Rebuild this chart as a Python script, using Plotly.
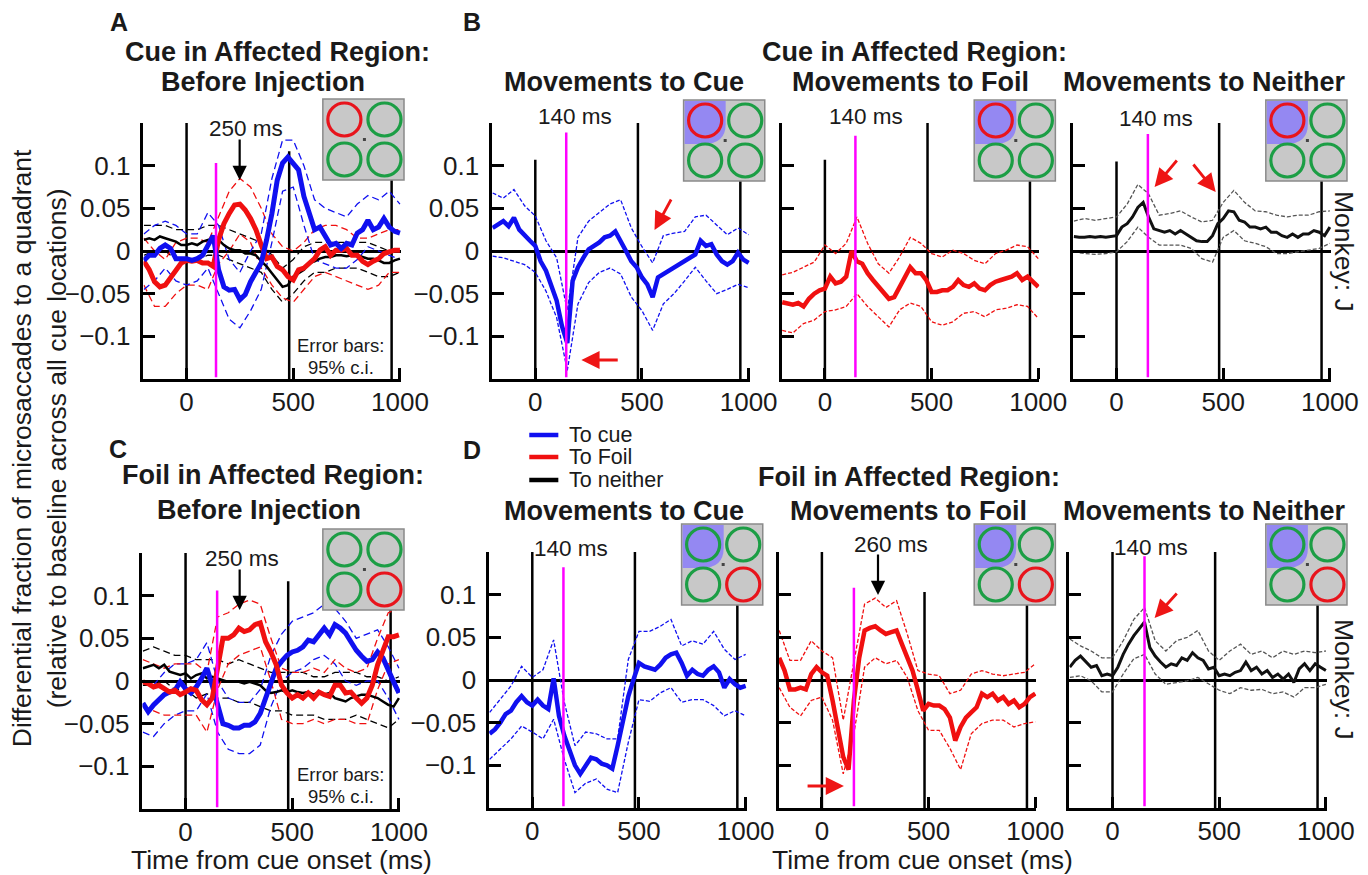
import plotly.graph_objects as go

# Page geometry: the body adds an 8 px margin and the photographed page is squeezed
# horizontally by KX, so target-pixel positions are converted to page pixels below.
OFF = 8
KX = 0.9776
W, H = 1376, 867
FONT = "Liberation Sans, Arial, Helvetica, sans-serif"

# ---------------- data ----------------
T25 = list(range(-200, 1001, 25))   # time grid of the mean traces (ms)
T50 = list(range(-200, 1001, 50))   # time grid of the 95% c.i. traces (ms)

XTICKS = [0, 500, 1000]
XTICKTEXT = ["0", "500", "1000"]
YTICKS = [-0.1, -0.05, 0, 0.05, 0.1]
YTICKTEXT = ["\u22120.1", "\u22120.05", "0", "0.05", "0.1"]

# Panel A (cue in affected region, before injection)
A_blue = [-0.011, -0.005, -0.005, 0.003, 0.007, 0.003, -0.009, -0.009, -0.009, -0.011,
          -0.009, -0.005, 0.007, 0.018, -0.022, -0.042, -0.046, -0.045, -0.057, -0.051,
          -0.036, -0.026, -0.014, 0.013, 0.044, 0.083, 0.103, 0.110, 0.103, 0.095,
          0.064, 0.042, 0.025, 0.028, 0.017, 0.007, 0.009, 0.003, 0.009, 0.007,
          0.021, 0.025, 0.036, 0.025, 0.028, 0.038, 0.028, 0.023, 0.021]
A_red = [-0.012, -0.022, -0.036, -0.042, -0.040, -0.032, -0.024, -0.014, -0.011, -0.012,
         -0.011, -0.014, -0.014, -0.018, 0.013, 0.032, 0.044, 0.054, 0.055, 0.048,
         0.038, 0.025, 0.007, -0.009, -0.007, -0.018, -0.022, -0.030, -0.034, -0.022,
         -0.020, -0.014, -0.009, 0.001, 0.005, -0.005, 0.001, 0.001, 0.003, -0.005,
         -0.005, -0.012, -0.016, -0.012, -0.009, -0.003, -0.001, 0.001, 0.001]
A_black = [0.013, 0.015, 0.013, 0.017, 0.015, 0.013, 0.011, 0.007, 0.007, 0.009,
           0.007, 0.011, 0.013, 0.015, 0.013, 0.007, 0.003, 0.001, 0.001, -0.003,
           -0.003, -0.005, -0.012, -0.018, -0.026, -0.034, -0.042, -0.040, -0.030, -0.026,
           -0.022, -0.014, -0.012, -0.009, -0.007, -0.007, -0.005, -0.005, -0.006, -0.005,
           -0.005, -0.007, -0.009, -0.009, -0.011, -0.014, -0.014, -0.011, -0.009]
A_blue_hi = [0.02, 0.03, 0.035, 0.03, 0.02, 0.02, 0.045, 0.03, -0.01, -0.025, 0.0, 0.02, 0.085,
             0.13, 0.13, 0.10, 0.06, 0.05, 0.045, 0.04, 0.055, 0.065, 0.06, 0.07, 0.055]
A_blue_lo = [-0.045, -0.035, -0.02, -0.035, -0.04, -0.035, -0.02, -0.05, -0.08, -0.09, -0.07, -0.045, 0.01,
             0.07, 0.075, 0.03, -0.01, -0.015, -0.02, -0.02, -0.01, 0.005, 0.0, -0.005, -0.01]
A_red_hi = [0.015, 0.0, -0.01, 0.01, 0.015, 0.015, 0.01, 0.04, 0.07, 0.085, 0.075, 0.05, 0.02,
            0.005, 0.0, 0.01, 0.025, 0.03, 0.03, 0.025, 0.015, 0.015, 0.02, 0.025, 0.025]
A_red_lo = [-0.04, -0.065, -0.065, -0.05, -0.04, -0.04, -0.045, -0.015, 0.0, 0.02, 0.01, -0.02, -0.04,
            -0.055, -0.06, -0.045, -0.03, -0.025, -0.03, -0.035, -0.04, -0.045, -0.04, -0.025, -0.025]
A_black_hi = [0.03, 0.03, 0.03, 0.025, 0.025, 0.025, 0.03, 0.03, 0.025, 0.02, 0.015, 0.01, -0.005,
              -0.02, -0.01, 0.005, 0.01, 0.01, 0.01, 0.01, 0.01, 0.01, 0.005, 0.0, 0.0]
A_black_lo = [-0.005, 0.0, 0.0, -0.01, -0.01, -0.01, -0.005, -0.005, -0.01, -0.015, -0.02, -0.025, -0.045,
              -0.06, -0.05, -0.035, -0.025, -0.025, -0.02, -0.02, -0.02, -0.025, -0.03, -0.03, -0.025]

# Panel C (foil in affected region, before injection)
C_red = [-0.001, -0.003, -0.007, -0.005, -0.009, -0.013, -0.011, -0.016, -0.013, -0.009,
         -0.011, -0.022, -0.028, -0.020, 0.015, 0.050, 0.050, 0.054, 0.062, 0.058,
         0.060, 0.066, 0.068, 0.046, 0.034, 0.019, -0.005, -0.014, -0.020, -0.016,
         -0.020, -0.014, -0.020, -0.013, -0.016, -0.018, -0.005, -0.005, -0.014, -0.013,
         -0.020, -0.026, -0.020, -0.005, 0.019, 0.034, 0.052, 0.052, 0.054]
C_blue = [-0.026, -0.036, -0.028, -0.022, -0.016, -0.013, -0.011, -0.001, -0.009, -0.014,
          -0.007, 0.003, 0.015, -0.005, -0.028, -0.050, -0.052, -0.055, -0.055, -0.052,
          -0.052, -0.048, -0.038, -0.020, -0.001, 0.015, 0.023, 0.030, 0.034, 0.036,
          0.040, 0.048, 0.046, 0.054, 0.062, 0.054, 0.066, 0.062, 0.056, 0.046,
          0.036, 0.029, 0.023, 0.025, 0.034, 0.027, 0.011, -0.001, -0.014]
C_black = [0.015, 0.017, 0.019, 0.015, 0.019, 0.011, 0.009, 0.007, 0.009, 0.003,
           0.007, 0.009, 0.003, 0.005, 0.003, 0.001, -0.001, -0.001, -0.001, -0.003,
           -0.001, -0.003, -0.005, -0.011, -0.014, -0.013, -0.011, -0.013, -0.011, -0.013,
           -0.014, -0.013, -0.016, -0.013, -0.016, -0.014, -0.020, -0.022, -0.024, -0.020,
           -0.018, -0.016, -0.016, -0.018, -0.020, -0.024, -0.028, -0.030, -0.020]
C_red_hi = [0.025, 0.02, 0.015, 0.02, 0.02, 0.02, 0.01, 0.075, 0.08, 0.09, 0.095, 0.09, 0.05,
            0.015, 0.01, 0.01, 0.015, 0.01, 0.025, 0.015, 0.01, 0.015, 0.05, 0.08, 0.085]
C_red_lo = [-0.03, -0.035, -0.04, -0.04, -0.04, -0.04, -0.06, -0.01, 0.02, 0.03, 0.035, 0.04, 0.0,
            -0.045, -0.05, -0.05, -0.045, -0.05, -0.045, -0.045, -0.05, -0.05, -0.01, 0.02, 0.025]
C_blue_hi = [0.0, -0.005, 0.01, 0.02, 0.02, 0.025, 0.045, 0.0, -0.02, -0.025, -0.025, -0.01, 0.03,
             0.055, 0.07, 0.075, 0.08, 0.09, 0.085, 0.07, 0.05, 0.055, 0.06, 0.04, 0.015]
C_blue_lo = [-0.06, -0.065, -0.05, -0.04, -0.035, -0.035, -0.015, -0.06, -0.08, -0.085, -0.085, -0.075, -0.03,
             0.0, 0.01, 0.015, 0.025, 0.03, 0.02, 0.0, -0.005, 0.0, 0.0, -0.02, -0.045]
C_black_hi = [0.035, 0.04, 0.035, 0.03, 0.03, 0.025, 0.025, 0.025, 0.02, 0.025, 0.02, 0.015, 0.01,
              0.01, 0.01, 0.01, 0.005, 0.005, 0.01, 0.01, 0.01, 0.005, 0.005, 0.0, 0.005]
C_black_lo = [-0.005, -0.005, 0.0, -0.01, -0.01, -0.02, -0.015, -0.02, -0.02, -0.025, -0.025, -0.03, -0.035,
              -0.035, -0.04, -0.04, -0.04, -0.045, -0.045, -0.045, -0.04, -0.045, -0.05, -0.055, -0.045]

# Panel B (cue in affected region, after injection)
B1_blue = [0.027, 0.031, 0.035, 0.029, 0.039, 0.025, 0.018, 0.012, 0.006, -0.012,
           -0.023, -0.039, -0.058, -0.088, -0.108, -0.035, -0.019, -0.008, 0.002, 0.006,
           0.010, 0.016, 0.018, 0.023, 0.010, 0.000, -0.012, -0.019, -0.031, -0.039,
           -0.054, -0.031, -0.027, -0.023, -0.019, -0.016, -0.012, -0.008, -0.004, 0.012,
           0.006, 0.008, -0.004, -0.012, -0.016, -0.012, -0.002, -0.010, -0.014]
B1_hi = [0.068, 0.062, 0.072, 0.053, 0.041, 0.012, -0.008, -0.07, 0.016, 0.035, 0.045, 0.055, 0.060,
         0.027, 0.005, -0.014, 0.018, 0.021, 0.023, 0.040, 0.042, 0.030, 0.019, 0.027, 0.019]
B1_lo = [-0.006, -0.008, -0.012, -0.016, -0.025, -0.047, -0.078, -0.140, -0.062, -0.037, -0.025, -0.020, -0.027,
         -0.054, -0.070, -0.093, -0.062, -0.050, -0.035, -0.019, -0.035, -0.050, -0.045, -0.039, -0.043]
B2_red = [-0.060, -0.061, -0.063, -0.061, -0.065, -0.056, -0.050, -0.046, -0.044, -0.030,
          -0.038, -0.036, -0.030, 0.000, -0.012, -0.015, -0.026, -0.034, -0.042, -0.050,
          -0.056, -0.054, -0.042, -0.030, -0.019, -0.026, -0.026, -0.034, -0.048, -0.048,
          -0.046, -0.046, -0.042, -0.034, -0.040, -0.042, -0.038, -0.044, -0.046, -0.040,
          -0.036, -0.034, -0.032, -0.030, -0.026, -0.034, -0.030, -0.036, -0.042]
B2_hi = [-0.028, -0.025, -0.019, -0.013, 0.007, -0.003, 0.009, 0.040, 0.009, -0.015, -0.026, -0.007, 0.016,
         0.009, -0.003, -0.007, 0.001, -0.003, -0.011, -0.015, -0.003, 0.001, 0.007, 0.005, -0.009]
B2_lo = [-0.093, -0.096, -0.085, -0.081, -0.071, -0.069, -0.065, -0.050, -0.065, -0.077, -0.089, -0.069, -0.061,
         -0.065, -0.083, -0.087, -0.083, -0.073, -0.071, -0.077, -0.069, -0.067, -0.063, -0.065, -0.079]
B3_black = [0.017, 0.016, 0.016, 0.017, 0.016, 0.017, 0.016, 0.017, 0.018, 0.028,
            0.032, 0.040, 0.051, 0.057, 0.040, 0.026, 0.024, 0.022, 0.024, 0.020,
            0.024, 0.020, 0.016, 0.012, 0.011, 0.011, 0.018, 0.032, 0.038, 0.047,
            0.046, 0.036, 0.034, 0.028, 0.028, 0.026, 0.028, 0.022, 0.022, 0.018,
            0.016, 0.020, 0.016, 0.020, 0.020, 0.024, 0.022, 0.018, 0.028]
B3_hi = [0.035, 0.038, 0.036, 0.038, 0.040, 0.055, 0.078, 0.067, 0.042, 0.044, 0.047, 0.040, 0.034,
         0.036, 0.057, 0.071, 0.057, 0.047, 0.046, 0.042, 0.040, 0.042, 0.042, 0.046, 0.047]
B3_lo = [-0.001, -0.003, -0.004, -0.003, -0.001, 0.011, 0.028, 0.016, 0.007, 0.007, 0.007, 0.003, -0.009,
         -0.013, 0.016, 0.024, 0.012, 0.009, 0.005, -0.003, -0.003, -0.001, 0.001, 0.003, 0.009]

# Panel D (foil in affected region, after injection)
D1_blue = [-0.063, -0.058, -0.050, -0.040, -0.036, -0.026, -0.019, -0.026, -0.030, -0.023,
           -0.030, -0.034, 0.002, -0.042, -0.065, -0.081, -0.100, -0.110, -0.100, -0.091,
           -0.093, -0.098, -0.100, -0.104, -0.077, -0.046, -0.019, 0.001, 0.020, 0.016,
           0.014, 0.012, 0.018, 0.026, 0.030, 0.032, 0.020, 0.005, 0.012, 0.007,
           0.005, 0.012, 0.016, 0.009, -0.009, 0.001, -0.005, -0.009, -0.007]
D1_hi = [-0.038, -0.023, -0.007, 0.016, 0.003, 0.012, 0.047, -0.026, -0.077, -0.061, -0.063, -0.069, -0.069,
         0.024, 0.057, 0.057, 0.063, 0.071, 0.040, 0.046, 0.042, 0.057, 0.036, 0.024, 0.030]
D1_lo = [-0.093, -0.081, -0.069, -0.054, -0.061, -0.069, -0.046, -0.093, -0.132, -0.121, -0.116, -0.128, -0.132,
         -0.073, -0.023, -0.025, -0.015, -0.009, -0.026, -0.023, -0.023, -0.030, -0.042, -0.036, -0.042]
D2_red = [0.026, 0.011, -0.011, -0.011, -0.009, -0.011, 0.007, 0.015, 0.009, 0.005,
          -0.024, -0.055, -0.090, -0.105, -0.024, 0.026, 0.058, 0.061, 0.063, 0.058,
          0.054, 0.056, 0.058, 0.042, 0.026, 0.011, -0.012, -0.036, -0.028, -0.030,
          -0.030, -0.034, -0.044, -0.071, -0.055, -0.044, -0.038, -0.032, -0.016, -0.020,
          -0.016, -0.024, -0.020, -0.028, -0.024, -0.032, -0.028, -0.020, -0.016]
D2_hi = [0.058, 0.023, 0.023, 0.046, 0.034, 0.026, -0.047, 0.023, 0.089, 0.096, 0.085, 0.093, 0.054,
         0.011, 0.007, 0.005, -0.016, -0.012, 0.007, 0.011, 0.007, 0.005, 0.007, 0.009, 0.019]
D2_lo = [-0.009, -0.032, -0.042, -0.024, -0.020, -0.047, -0.110, -0.063, 0.015, 0.026, 0.019, 0.023, 0.003,
         -0.036, -0.059, -0.059, -0.080, -0.105, -0.063, -0.051, -0.047, -0.047, -0.055, -0.051, -0.049]
D3_black = [0.015, 0.023, 0.028, 0.021, 0.015, 0.017, 0.005, 0.007, 0.005, 0.015,
            0.030, 0.042, 0.052, 0.060, 0.068, 0.038, 0.028, 0.021, 0.015, 0.019,
            0.017, 0.026, 0.023, 0.032, 0.026, 0.023, 0.013, 0.015, 0.005, 0.007,
            0.005, 0.009, 0.011, 0.021, 0.011, 0.015, 0.007, 0.011, 0.003, 0.007,
            0.001, 0.007, -0.003, 0.013, 0.019, 0.011, 0.019, 0.015, 0.011]
D3_hi = [0.048, 0.040, 0.034, 0.026, 0.026, 0.046, 0.071, 0.085, 0.046, 0.034, 0.046, 0.050, 0.058,
         0.034, 0.023, 0.034, 0.042, 0.030, 0.034, 0.026, 0.034, 0.030, 0.034, 0.032, 0.034]
D3_lo = [0.003, 0.005, -0.001, -0.014, -0.014, 0.007, 0.025, 0.030, 0.007, -0.005, -0.003, -0.001, 0.003,
         -0.005, -0.012, -0.016, -0.009, -0.012, -0.011, -0.016, -0.014, -0.020, -0.009, -0.009, -0.005]

# ---------------- styling / layout helpers ----------------
BLUE, RED, BLACK, MAGENTA = "#1010f0", "#f01010", "#000000", "#ff00ff"
GREEN, IRED, GRAY, PURPLE = "#1c9e45", "#e8141c", "#c8c8c8", "#9488f2"
TXT = "#1a1a1a"


def px(x):
    return (x / KX - OFF) / W


def py(y):
    return 1 - (y - OFF) / H


# panel name: (left, right, top, bottom) in target pixels
PANELS = {
    "A": (143, 400, 123, 379),
    "B1": (491, 748, 123, 379),
    "B2": (780, 1037, 123, 379),
    "B3": (1071, 1328, 123, 379),
    "C": (142, 399, 553, 809),
    "D1": (488, 745, 552, 808),
    "D2": (777, 1034, 552, 808),
    "D3": (1067, 1324, 552, 808),
}
LABELLED = {"A", "B1", "C", "D1"}

fig = go.Figure()
layout = dict(
    width=W, height=H, margin=dict(l=0, r=0, t=0, b=0),
    paper_bgcolor="white", plot_bgcolor="white", showlegend=False,
    font=dict(family=FONT, color=TXT),
)
axid = {}
for i, (name, (l, r, t, b)) in enumerate(PANELS.items()):
    n = "" if i == 0 else str(i + 1)
    axid[name] = ("x" + n, "y" + n)
    layout["xaxis" + n] = dict(
        domain=[px(l), px(r)], anchor="y" + n, range=[-202, 1005],
        showgrid=False, zeroline=False, showline=True, linewidth=2.5, linecolor="black",
        ticks="inside", ticklen=11, tickwidth=2.5, tickcolor="black",
        tickvals=XTICKS, ticktext=XTICKTEXT, tickfont=dict(size=26, color=TXT),
        ticklabelstandoff=-2, fixedrange=True,
    )
    layout["yaxis" + n] = dict(
        domain=[py(b), py(t)], anchor="x" + n, range=[-0.15, 0.15],
        showgrid=False, zeroline=True, zerolinewidth=2.5, zerolinecolor="black",
        showline=True, linewidth=2.5, linecolor="black",
        ticks="inside", ticklen=12, tickwidth=2.5, tickcolor="black",
        tickvals=YTICKS, ticktext=YTICKTEXT, tickfont=dict(size=26, color=TXT),
        showticklabels=name in LABELLED, ticklabelstandoff=5, fixedrange=True,
    )


def add_line(panel, x, y, color, width, dash=None):
    xa, ya = axid[panel]
    fig.add_trace(go.Scatter(x=x, y=y, mode="lines", xaxis=xa, yaxis=ya,
                             line=dict(color=color, width=width, dash=dash),
                             hoverinfo="skip"))


DASH_AC = "7px,4px"
DASH_BD = "4px,2px"

# panels A and C: three series with c.i.
for panel, series in (
    ("A", [(A_black, A_black_hi, A_black_lo, BLACK, 2.5),
           (A_red, A_red_hi, A_red_lo, RED, 5),
           (A_blue, A_blue_hi, A_blue_lo, BLUE, 5)]),
    ("C", [(C_black, C_black_hi, C_black_lo, BLACK, 2.5),
           (C_blue, C_blue_hi, C_blue_lo, BLUE, 5),
           (C_red, C_red_hi, C_red_lo, RED, 5)]),
):
    for mean, hi, lo, col, w in series:
        add_line(panel, T50, hi, col, 1.3, DASH_AC)
        add_line(panel, T50, lo, col, 1.3, DASH_AC)
    for mean, hi, lo, col, w in series:
        add_line(panel, T25, mean, col, w)

# panels B and D: single series with c.i.
for panel, mean, hi, lo, col, w in (
    ("B1", B1_blue, B1_hi, B1_lo, BLUE, 4.5),
    ("B2", B2_red, B2_hi, B2_lo, RED, 4.5),
    ("B3", B3_black, B3_hi, B3_lo, "#111111", 3),
    ("D1", D1_blue, D1_hi, D1_lo, BLUE, 4.5),
    ("D2", D2_red, D2_hi, D2_lo, RED, 4.5),
    ("D3", D3_black, D3_hi, D3_lo, "#111111", 3),
):
    cic = "#555555" if col == "#111111" else col
    add_line(panel, T50, hi, cic, 1.3, DASH_BD)
    add_line(panel, T50, lo, cic, 1.3, DASH_BD)
    add_line(panel, T25, mean, col, w)

# ---------------- shapes ----------------
shapes = []
EVENTS = [0, 481, 961]
EVENT_TOPS = {
    "A": [0.15, 0.117, 0.15], "B1": [0.107, 0.15, 0.15], "B2": [0.107, 0.15, 0.15],
    "B3": [0.105, 0.15, 0.15], "C": [0.15, 0.117, 0.15], "D1": [0.15, 0.15, 0.15],
    "D2": [0.15, 0.103, 0.15], "D3": [0.15, 0.15, 0.15],
}
MAG = {"A": (138, 0.103), "B1": (145, 0.139), "B2": (143, 0.135), "B3": (147, 0.137),
       "C": (148, 0.106), "D1": (146, 0.132), "D2": (150, 0.108), "D3": (150, 0.145)}
for name in PANELS:
    xa, ya = axid[name]
    for ev, top in zip(EVENTS, EVENT_TOPS[name]):
        shapes.append(dict(type="line", xref=xa, yref=ya, x0=ev, x1=ev, y0=-0.15, y1=top,
                           line=dict(color="black", width=2.5), layer="below"))
    mx, mtop = MAG[name]
    shapes.append(dict(type="line", xref=xa, yref=ya, x0=mx, x1=mx, y0=-0.148, y1=mtop,
                       line=dict(color=MAGENTA, width=2.5), layer="above"))

# quadrant insets: (left, top, red quadrant index, shaded)
INSETS = [(322, 99, 0, False), (682, 100, 0, True), (972, 100, 0, True), (1263, 100, 0, True),
          (322, 529, 3, False), (680, 524, 3, True), (972, 524, 3, True), (1263, 524, 3, True)]
S = 81
for (l, t, redq, shaded) in INSETS:
    shapes.append(dict(type="rect", xref="paper", yref="paper", x0=px(l), x1=px(l + S),
                       y0=py(t + S), y1=py(t), fillcolor=GRAY,
                       line=dict(color="#8a8a8a", width=1.5), layer="above"))
    if shaded:
        path = "M {:.5f},{:.5f} L {:.5f},{:.5f} L {:.5f},{:.5f} Q {:.5f},{:.5f} {:.5f},{:.5f} L {:.5f},{:.5f} Z".format(
            px(l + 1), py(t + 1), px(l + 42), py(t + 1), px(l + 42), py(t + 24),
            px(l + 42), py(t + 44), px(l + 20), py(t + 44), px(l + 1), py(t + 44))
        shapes.append(dict(type="path", xref="paper", yref="paper", path=path,
                           fillcolor=PURPLE, line=dict(width=0), layer="above"))
    centers = [(l + 21.5, t + 20.5), (l + 61.5, t + 20.5), (l + 21.5, t + 60.5), (l + 61.5, t + 60.5)]
    for q, (cx, cy) in enumerate(centers):
        rr = 16.5
        shapes.append(dict(type="circle", xref="paper", yref="paper",
                           x0=px(cx - rr), x1=px(cx + rr), y0=py(cy + rr), y1=py(cy - rr),
                           line=dict(color=IRED if q == redq else GREEN, width=3.2),
                           layer="above"))
    shapes.append(dict(type="rect", xref="paper", yref="paper", x0=px(l + 40), x1=px(l + 43),
                       y0=py(t + 42), y1=py(t + 39), fillcolor="#444444",
                       line=dict(width=0), layer="above"))

# legend samples
for yy, col in ((435, BLUE), (457, RED), (480, BLACK)):
    shapes.append(dict(type="line", xref="paper", yref="paper", x0=px(528), x1=px(557),
                       y0=py(yy), y1=py(yy), line=dict(color=col, width=4.5)))

# ---------------- text ----------------
ann = []


def txt(x, y, s, size, bold=False, angle=0, xanchor="center", color=TXT):
    ann.append(dict(x=px(x), y=py(y), xref="paper", yref="paper", text=("<b>%s</b>" % s) if bold else s,
                    showarrow=False, textangle=angle, xanchor=xanchor, yanchor="middle",
                    font=dict(size=size, color=color, family=FONT)))


def arrow(tipx, tipy, tailx, taily, color, width=2.2, size=1.0):
    ann.append(dict(x=px(tipx), y=py(tipy), xref="paper", yref="paper", text="",
                    showarrow=True, ax=(tailx - tipx) / KX, ay=taily - tipy, axref="pixel", ayref="pixel",
                    arrowhead=2, arrowsize=size, arrowwidth=width, arrowcolor=color))


for s, x, y in (("A", 119, 22), ("B", 471, 22), ("C", 118, 449), ("D", 471, 450)):
    txt(x, y, s, 25, bold=True)

TITLE = 27
txt(277, 52, "Cue in Affected Region:", TITLE, bold=True)
txt(262, 82, "Before Injection", TITLE, bold=True)
txt(912, 52, "Cue in Affected Region:", TITLE, bold=True)
txt(623, 82, "Movements to Cue", TITLE, bold=True)
txt(908, 82, "Movements to Foil", TITLE, bold=True)
txt(1202, 82, "Movements to Neither", TITLE, bold=True)
txt(272, 475, "Foil in Affected Region:", TITLE, bold=True)
txt(258, 510, "Before Injection", TITLE, bold=True)
txt(907, 477, "Foil in Affected Region:", TITLE, bold=True)
txt(623, 511, "Movements to Cue", TITLE, bold=True)
txt(906, 511, "Movements to Foil", TITLE, bold=True)
txt(1202, 511, "Movements to Neither", TITLE, bold=True)

ANN = 22.5
for x, y, s in ((245, 128, "250 ms"), (574, 117, "140 ms"), (864, 117, "140 ms"), (1153, 118, "140 ms"),
                (241, 558, "250 ms"), (570, 548, "140 ms"), (889, 544, "260 ms"), (1148, 547, "140 ms")):
    txt(x, y, s, ANN)

for y1, y2 in ((345, 367), (774, 796)):
    txt(340, y1, "Error bars:", 18.5)
    txt(340, y2, "95% c.i.", 18.5)

for yy, s in ((435, "To cue"), (457, "To Foil"), (480, "To neither")):
    txt(566, yy, s, 21.5, xanchor="left")

txt(22, 448, "Differential fraction of microsaccades to a quadrant", 26.5, angle=-90)
txt(57, 448, "(relative to baseline across all cue locations)", 26.5, angle=-90)
txt(281, 860, "Time from cue onset (ms)", 26.5)
txt(920, 860, "Time from cue onset (ms)", 26.5)
txt(1341, 252, "Monkey: J", 26.5, angle=90)
txt(1341, 680, "Monkey: J", 26.5, angle=90)

# black arrows
arrow(239, 180, 239, 138, "black", width=2.2, size=1.3)
arrow(239, 610, 239, 568, "black", width=2.2, size=1.3)
arrow(876, 595, 876, 553, "black", width=2.2, size=1.3)
# red arrows
RA = "#ee1515"
arrow(580, 360, 617, 360, RA, width=2.8, size=1.3)
arrow(653, 230, 670, 198, RA, width=2.8, size=1.3)
arrow(1152, 187, 1175, 159, RA, width=2.8, size=1.3)
arrow(1213, 192, 1190, 163, RA, width=2.8, size=1.3)
arrow(842, 786, 805, 786, RA, width=2.8, size=1.3)
arrow(1152, 618, 1175, 592, RA, width=2.8, size=1.3)

layout["shapes"] = shapes
layout["annotations"] = ann
fig.update_layout(**layout)
fig.write_html("out.html")
